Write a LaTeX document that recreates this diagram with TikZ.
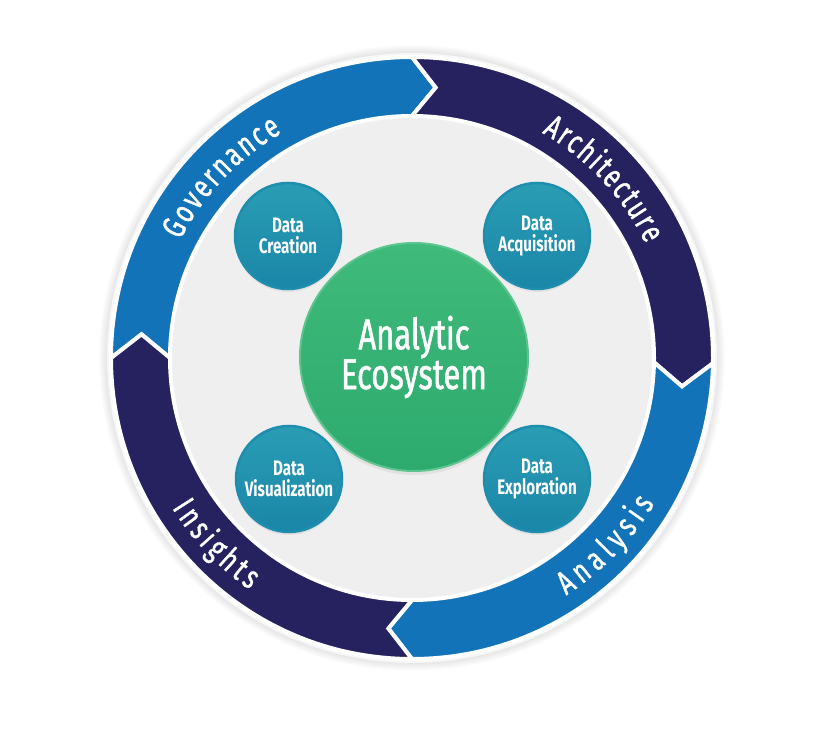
\documentclass[tikz,border=0pt]{standalone}
\usepackage{fontspec}
\usetikzlibrary{positioning, calc, decorations.text, shadows}
\newfontfamily\condfont[FakeStretch=0.72]{Fira Sans}
\newfontfamily\condmedium[FakeStretch=0.72, FakeBold=1.2]{Fira Sans}
\newcommand{\ringfont}{\condmedium\fontsize{33}{33}\selectfont}

\definecolor{ringblue}{HTML}{1273B9}
\definecolor{ringnavy}{HTML}{262260}
\definecolor{ballteal}{HTML}{2A9DB4}
\definecolor{balltealdark}{HTML}{1A86A8}
\definecolor{ballrim}{HTML}{1E8DAE}
\definecolor{ballgreen}{HTML}{3FBA7A}
\definecolor{ballgreendark}{HTML}{2DAA6E}
\definecolor{innergray}{HTML}{EFEFEF}
\definecolor{rimgray}{HTML}{F7F7F7}

\tikzset{
  smallball/.style={circle, minimum size=106pt, inner sep=0pt, align=center,
    top color=ballteal, bottom color=balltealdark, draw=ballrim, line width=2.5pt,
    text=white, font=\condfont\bfseries\fontsize{21}{21}\selectfont,
    drop shadow={opacity=0.12, shadow xshift=0pt, shadow yshift=-3pt}},
  bigball/.style={circle, minimum size=228pt, inner sep=0pt, align=center,
    top color=ballgreen, bottom color=ballgreendark, draw=ballgreen!85!white, line width=2pt,
    text=white, font=\condmedium\fontsize{43}{37}\selectfont,
    drop shadow={opacity=0.12, shadow xshift=0pt, shadow yshift=-4pt}},
  ringlabel/.style={decorate, decoration={text along path, text align={fit to path},
    text color=white, text={|\ringfont|#1}}}
}

\begin{document}
\begin{tikzpicture}[x=1pt, y=1pt]
  \useasboundingbox (0,0) rectangle (840,731);
  \fill[white] (0,0) rectangle (840,731);

  \begin{scope}[shift={(412,373)}]
    % soft shadow and rim
    \foreach \i in {1,...,9}
      \fill[black, opacity=0.012] (0,0) circle (304+\i);
    \fill[rimgray] (0,0) circle (305);
    \fill[innergray] (0,0) circle (246);

    % the four arrows of the ring
    \foreach \a/\b/\col in {180/90/ringblue, 90/-1/ringnavy, -1/-90/ringblue, 270/180/ringnavy}
      \filldraw[fill=\col, draw=white, line width=4pt, line join=miter]
        (\a:301) arc[start angle=\a, end angle=\b, radius=301]
        -- ({\b-5}:271.5) -- (\b:242)
        arc[start angle=\b, end angle=\a, radius=242]
        -- ({\a-5}:271.5) -- cycle;

    \path[ringlabel=Governance] (153:260) arc[start angle=153, end angle=120, radius=260];
    \path[ringlabel=Architecture] (60:260) arc[start angle=60, end angle=26, radius=260];
    \path[ringlabel=Analysis] (-57:283) arc[start angle=-57, end angle=-31, radius=283];
    \path[ringlabel=Insights] (212:283) arc[start angle=212, end angle=235, radius=283];
  \end{scope}

  \node[bigball] (ecosystem) at (414,374) {Analytic\\Ecosystem};
  \node[smallball] (creation) at (288,495) {Data\\Creation};
  \node[smallball] (acquisition) at (537,495) {Data\\Acquisition};
  \node[smallball] (visualization) at (289,252) {Data\\Visualization};
  \node[smallball] (exploration) at (537,252) {Data\\Exploration};
\end{tikzpicture}
\end{document}
